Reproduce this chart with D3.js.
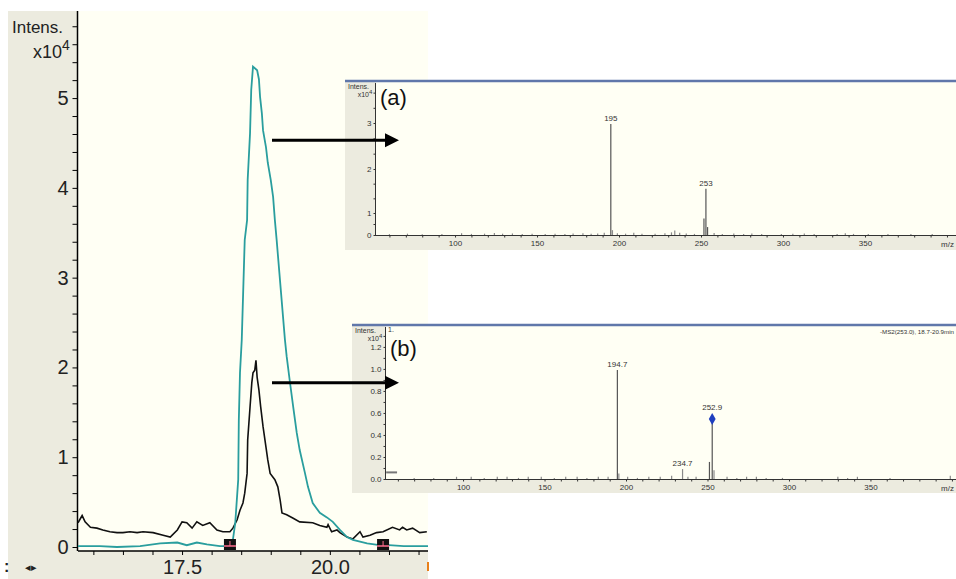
<!DOCTYPE html>
<html><head><meta charset="utf-8">
<script src="https://cdn.jsdelivr.net/npm/d3@7"></script>
<style>html,body{margin:0;padding:0;background:#fff;}svg{display:block;font-family:"Liberation Sans",Arial,sans-serif;}</style>
</head><body><svg id="c" width="956" height="579"></svg>
<script>
// ================= DATA =================
// Main chromatogram (time in min, intensity x10^4)
const mainXTickLabels = [17.5, 20.0];
const mainYTickLabels = [0, 1, 2, 3, 4, 5];
const tealTime = [15.74,16.11,16.40,16.79,17.13,17.42,17.58,17.75,17.92,18.14,18.31,18.36,18.40,18.45,18.46,18.48,18.51,18.56,18.60,18.61,18.65,18.67,18.70,18.77,18.80,18.82,18.85,18.87,18.92,18.95,19.00,19.04,19.07,19.10,19.24,19.27,19.32,19.38,19.44,19.49,19.58,19.63,19.71,19.83,19.95,20.05,20.17,20.29,20.39,20.63,20.84,21.00,21.25,21.66];
const tealIntensity = [0.01,0.01,0.00,0.01,0.04,0.05,0.02,0.05,0.03,0.01,0.01,0.08,0.27,0.75,1.41,1.94,2.31,3.42,3.64,4.09,4.61,5.09,5.35,5.31,5.21,5.01,4.83,4.64,4.45,4.28,4.09,3.90,3.64,3.42,2.31,2.12,1.86,1.56,1.27,1.08,0.82,0.67,0.49,0.38,0.33,0.28,0.19,0.11,0.08,0.04,0.02,0.02,0.01,0.01];
const blackTime = [15.74,15.81,15.86,15.95,16.06,16.16,16.28,16.40,16.50,16.62,16.74,16.84,17.01,17.18,17.30,17.42,17.50,17.58,17.67,17.75,17.85,17.97,18.09,18.19,18.31,18.36,18.43,18.48,18.53,18.56,18.60,18.61,18.65,18.68,18.70,18.73,18.75,18.77,18.80,18.83,18.87,18.92,18.95,18.99,19.07,19.12,19.16,19.19,19.27,19.38,19.49,19.71,19.83,19.95,19.97,20.03,20.12,20.17,20.29,20.39,20.51,20.56,20.68,20.79,20.90,21.06,21.18,21.23,21.30,21.40,21.52,21.64];
const blackIntensity = [0.27,0.35,0.28,0.22,0.21,0.19,0.17,0.16,0.16,0.17,0.16,0.17,0.16,0.13,0.11,0.19,0.28,0.27,0.21,0.28,0.24,0.27,0.19,0.17,0.17,0.21,0.30,0.41,0.49,0.60,0.82,1.19,1.56,1.83,1.94,1.97,2.08,1.89,1.75,1.56,1.34,1.11,0.97,0.82,0.75,0.67,0.52,0.38,0.36,0.32,0.28,0.27,0.24,0.22,0.25,0.17,0.19,0.16,0.11,0.09,0.17,0.11,0.13,0.16,0.17,0.22,0.19,0.22,0.19,0.21,0.16,0.17];
const markerTimes = [18.31, 20.90];
// arrows point from the chromatogram (at these intensity levels) to the spectra
const arrowLevels = [4.53, 1.83];

// Inset (a): MS spectrum (m/z, intensity x10^4)
const specAxTicks = [100, 150, 200, 250, 300, 350];
const specAyTicks = [0, 1, 2, 3];
const specAmz  = [195, 196, 251.8, 253, 254, 60,71,80,92,104,110,118,124,129,135,141,147,155,161,167,172,178,183,187,191,199,204,209,214,222,228,232,234,237,241,246,258,263,270,276,281,287,299,306,313,319,333,338,343,352,364,378,391];
const specAint = [2.98, 0.22, 0.75, 1.55, 0.36, 0.04,0.06,0.03,0.04,0.08,0.05,0.06,0.09,0.06,0.07,0.04,0.06,0.04,0.06,0.04,0.07,0.08,0.06,0.07,0.10,0.08,0.06,0.10,0.06,0.06,0.08,0.12,0.20,0.10,0.07,0.05,0.09,0.05,0.07,0.05,0.07,0.04,0.05,0.06,0.07,0.04,0.05,0.08,0.05,0.04,0.04,0.04,0.04];
const specAlabelMz = [195, 253];
const specAlabelText = ["195", "253"];

// Inset (b): MS2 spectrum (m/z, intensity x10^4)
const specBxTicks = [100, 150, 200, 250, 300, 350];
const specByTicks = [0.0, 0.2, 0.4, 0.6, 0.8, 1.0, 1.2];
const specBmz  = [194.7, 195.6, 234.7, 251.2, 252.9, 254.0, 70,82,96,105,113,121,127,134,140,148,156,163,170,176,183,189,201,207,214,221,228,238,243,262,268,274,280,286,296,330,336,342,362,399];
const specBint = [0.99, 0.05, 0.09, 0.155, 0.545, 0.08, 0.01,0.01,0.02,0.02,0.01,0.02,0.02,0.01,0.02,0.02,0.01,0.02,0.02,0.01,0.02,0.02,0.02,0.01,0.02,0.02,0.03,0.02,0.02,0.02,0.01,0.02,0.02,0.01,0.01,0.02,0.01,0.02,0.01,0.03];
const specBlabelMz = [194.7, 234.7, 252.9];
const specBlabelText = ["194.7", "234.7", "252.9"];
const precursorMz = 252.9;

// ================= DRAW =================
const svg = d3.select("#c");
const BEIGE = "#ecebdf", CREAM = "#fffff4", TEAL = "#2a9e9e";

// ---------- main chromatogram ----------
const mx = d3.scaleLinear().domain([15.74, 21.66]).range([78, 428]);
const my = d3.scaleLinear().domain([0, 5.97]).range([547, 11]);

svg.append("rect").attr("x", 8).attr("y", 11).attr("width", 70).attr("height", 568).attr("fill", BEIGE);
svg.append("rect").attr("x", 8).attr("y", 551).attr("width", 420).attr("height", 28).attr("fill", BEIGE);
svg.append("rect").attr("x", 78).attr("y", 11).attr("width", 350).attr("height", 540).attr("fill", CREAM);

const yAx = svg.append("g").attr("transform", "translate(77.5,0)")
  .call(d3.axisLeft(my).tickValues(d3.range(0, 5.9, 0.2)).tickSize(5).tickPadding(4)
    .tickFormat(d => mainYTickLabels.some(v => Math.abs(v - d) < 1e-6) ? d3.format("d")(Math.round(d)) : ""));
yAx.select(".domain").remove();
yAx.selectAll("text").attr("font-size", 20).attr("fill", "#222").attr("font-family", "Liberation Sans");
svg.append("line").attr("x1", 77.5).attr("x2", 77.5).attr("y1", 11).attr("y2", 551).attr("stroke", "#000").attr("stroke-width", 1.5);

const xAx = svg.append("g").attr("transform", "translate(0,551)")
  .call(d3.axisBottom(mx).tickValues(d3.range(16, 21.6, 0.5)).tickSize(4).tickPadding(5)
    .tickFormat(d => mainXTickLabels.some(v => Math.abs(v - d) < 1e-6) ? d3.format(".1f")(d) : ""));
xAx.select(".domain").attr("d", "M78,0H428").attr("stroke-width", 1.5);
xAx.selectAll("text").attr("font-size", 20).attr("fill", "#222").attr("font-family", "Liberation Sans");

svg.append("text").attr("x", 12).attr("y", 33).attr("font-size", 17).attr("fill", "#222").text("Intens.");
svg.append("text").attr("x", 62).attr("y", 58).attr("font-size", 18).attr("fill", "#222").attr("text-anchor", "end").text("x10");
svg.append("text").attr("x", 62).attr("y", 50).attr("font-size", 14).attr("fill", "#222").text("4");

// curves
const plot = svg.append("g");
const line = d3.line().x(d => mx(d[0])).y(d => my(d[1]));
plot.append("path").datum(blackTime.map((t, i) => [t, blackIntensity[i]]))
  .attr("d", line).attr("fill", "none").attr("stroke", "#111").attr("stroke-width", 1.6);
plot.append("path").datum(tealTime.map((t, i) => [t, tealIntensity[i]]))
  .attr("d", line).attr("fill", "none").attr("stroke", TEAL).attr("stroke-width", 1.8);

// integration markers
const mk = plot.selectAll(".mk").data(markerTimes).enter().append("g").attr("class", "mk")
  .attr("transform", d => `translate(${mx(d)},${my(0)})`);
mk.append("rect").attr("x", -6).attr("y", -8).attr("width", 12).attr("height", 11).attr("fill", "#111");
mk.append("line").attr("x1", -6).attr("x2", 6).attr("y1", -1).attr("y2", -1).attr("stroke", "#ff6f8f").attr("stroke-width", 1.5);
mk.append("line").attr("x1", 0).attr("x2", 0).attr("y1", -6).attr("y2", -1).attr("stroke", "#ff6f8f").attr("stroke-width", 1);

// bottom left controls
svg.append("text").attr("x", 4).attr("y", 572).attr("font-size", 16).attr("font-weight", "bold").attr("fill", "#222").text(":");
svg.append("text").attr("x", 25).attr("y", 571).attr("font-size", 11).attr("fill", "#222").text("◂▸");
svg.append("rect").attr("x", 427).attr("y", 562).attr("width", 2).attr("height", 9).attr("fill", "#e8801a");

// ---------- inset helper ----------
function inset(o) {
  const g = svg.append("g");
  g.append("rect").attr("x", o.left).attr("y", o.top).attr("width", 956 - o.left).attr("height", o.bottom - o.top).attr("fill", BEIGE);
  g.append("rect").attr("x", o.axisX + 1).attr("y", o.top + 1).attr("width", 956 - o.axisX).attr("height", o.axisY - o.top - 1).attr("fill", CREAM);
  g.append("line").attr("x1", o.left).attr("x2", 956).attr("y1", o.top).attr("y2", o.top).attr("stroke", "#6077aa").attr("stroke-width", 2.5);
  const x = d3.scaleLinear().domain(o.xDomain).range([o.axisX, 956]);
  const y = d3.scaleLinear().domain(o.yDomain).range(o.yRange);
  const ya = g.append("g").attr("transform", `translate(${o.axisX + 0.5},0)`)
    .call(d3.axisLeft(y).tickValues(o.yMinor).tickSize(2).tickPadding(2)
      .tickFormat(d => o.yTicks.some(v => Math.abs(v - d) < 1e-6) ? o.yFmt(d) : ""));
  ya.select(".domain").remove();
  g.append("line").attr("x1", o.axisX + 0.5).attr("x2", o.axisX + 0.5).attr("y1", o.top + 2).attr("y2", o.axisY).attr("stroke", "#333");
  ya.selectAll("text").attr("font-size", 8).attr("fill", "#333");
  ya.selectAll("line").attr("stroke", "#333");
  const xa = g.append("g").attr("transform", `translate(0,${o.axisY + 0.5})`)
    .call(d3.axisBottom(x).tickValues(d3.range(60, 401, 10)).tickSize(2).tickPadding(3)
      .tickFormat(d => o.xTicks.includes(d) ? d : ""));
  xa.select(".domain").attr("d", `M${o.axisX},0H956`).attr("stroke", "#333");
  xa.selectAll("text").attr("font-size", 8).attr("fill", "#333");
  xa.selectAll("line").attr("stroke", "#333");
  g.append("text").attr("x", 954).attr("y", o.axisY + 12).attr("font-size", 8).attr("fill", "#333").attr("text-anchor", "end").text("m/z");
  g.append("text").attr("x", o.left + 3).attr("y", o.top + 8).attr("font-size", 7).attr("fill", "#333").text("Intens.");
  g.append("text").attr("x", o.axisX - 6).attr("y", o.top + 16).attr("font-size", 7).attr("fill", "#333").attr("text-anchor", "end").text("x10");
  g.append("text").attr("x", o.axisX - 6).attr("y", o.top + 13).attr("font-size", 6).attr("fill", "#333").text("4");
  g.append("text").attr("x", o.axisX + 5).attr("y", o.top + o.tagDy).attr("font-size", 22).attr("fill", "#111").text(o.tag);
  const pk = o.mz.map((m, i) => [m, o.int[i]]);
  g.selectAll(".pk").data(pk).enter().append("line")
    .attr("x1", d => x(d[0])).attr("x2", d => x(d[0]))
    .attr("y1", y(0)).attr("y2", d => y(d[1]))
    .attr("stroke", d => d[1] > 0.1 * o.yTicks[o.yTicks.length - 1] ? "#555" : "#8a8a8a").attr("stroke-width", 1.2);
  g.selectAll(".pl").data(o.labelMz).enter().append("text")
    .attr("x", d => x(d)).attr("y", d => y(o.int[o.mz.indexOf(d)]) - (d === o.precursor ? 9 : 3))
    .attr("text-anchor", "middle").attr("font-size", 8).attr("fill", "#333")
    .text((d, i) => o.labelText[i]);
  return { g, x, y };
}

const A = inset({
  left: 345, top: 81, bottom: 250, axisX: 375, axisY: 235,
  xDomain: [51.2, 405.5], yDomain: [0, 1, 2, 3, 3.9], yRange: [235, 213, 169, 123, 82],
  yTicks: specAyTicks, yMinor: [0, 0.5, 1, 4/3, 5/3, 2, 7/3, 8/3, 3, 10/3, 11/3],
  yFmt: d3.format("d"), xTicks: specAxTicks, mz: specAmz, int: specAint,
  labelMz: specAlabelMz, labelText: specAlabelText, tag: "(a)", tagDy: 24, precursor: null
});

const B = inset({
  left: 352, top: 325, bottom: 493, axisX: 385, axisY: 479,
  xDomain: [52.1, 402.5], yDomain: [0, 1.39], yRange: [479, 326],
  yTicks: specByTicks, yMinor: d3.range(0, 1.31, 0.1),
  yFmt: d3.format(".1f"), xTicks: specBxTicks, mz: specBmz, int: specBint,
  labelMz: specBlabelMz, labelText: specBlabelText, tag: "(b)", tagDy: 31, precursor: precursorMz
});
B.g.append("text").attr("x", 388).attr("y", 332).attr("font-size", 7).attr("fill", "#333").text("1.");
B.g.append("text").attr("x", 880).attr("y", 334).attr("font-size", 6).attr("fill", "#333")
  .attr("textLength", 74).attr("lengthAdjust", "spacingAndGlyphs").text("-MS2(253.0), 18.7-20.9min");
B.g.append("line").attr("x1", B.x(52.8)).attr("x2", B.x(59.5)).attr("y1", B.y(0.06)).attr("y2", B.y(0.06)).attr("stroke", "#777").attr("stroke-width", 2);
B.g.append("path").attr("d", d3.symbol(d3.symbolDiamond, 40)())
  .attr("transform", `translate(${B.x(precursorMz)},${B.y(specBint[specBmz.indexOf(precursorMz)])})`)
  .attr("fill", "#1f3fbf");

// ---------- arrows ----------
const ag = svg.selectAll(".arr").data(arrowLevels).enter().append("g");
ag.append("line").attr("x1", 272).attr("x2", 386).attr("y1", d => my(d)).attr("y2", d => my(d)).attr("stroke", "#000").attr("stroke-width", 3);
ag.append("path").attr("d", d => `M385,${my(d) - 7}L399,${my(d)}L385,${my(d) + 7}Z`).attr("fill", "#000");
</script></body></html>
